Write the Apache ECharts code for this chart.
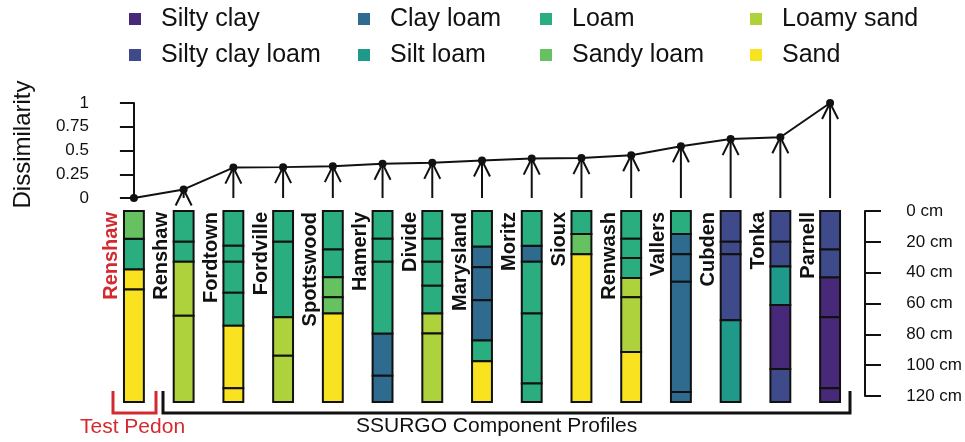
<!DOCTYPE html>
<html>
<head>
<meta charset="utf-8">
<script src="https://cdn.jsdelivr.net/npm/echarts@6/dist/echarts.min.js"></script>
<style>
  html, body { margin: 0; padding: 0; background: #fff; }
  #chart { width: 965px; height: 442px; }
</style>
</head>
<body>
<div id="chart"></div>
<script>
// profile names, test pedon first
const profileNames = ['Renshaw', 'Renshaw', 'Fordtown', 'Fordville', 'Spottswood', 'Hamerly', 'Divide', 'Marysland',
  'Moritz', 'Sioux', 'Renwash', 'Vallers', 'Cubden', 'Tonka', 'Parnell']
const dissimilarity = [0, 0.09, 0.32, 0.325, 0.335, 0.36, 0.37, 0.395, 0.415, 0.42, 0.45, 0.545, 0.62, 0.64, 1]

const textures = ['Silty clay', 'Silty clay loam', 'Clay loam', 'Silt loam', 'Loam', 'Sandy loam', 'Loamy sand', 'Sand']
const textureColors = ['#482878', '#3e4a89', '#2f6b8e', '#1f9a8a', '#2aae7f', '#66c260', '#aed23c', '#f9e21f']

// horizon boundaries (cm)
const horizonDepths = [
  [0, 18, 38, 51, 124],
  [0, 20, 33, 68, 124],
  [0, 22.5, 33, 53, 74.5, 115, 124],
  [0, 20, 69, 94, 124],
  [0, 25, 43, 56, 66.5, 124],
  [0, 18, 33, 79.5, 107, 124],
  [0, 18, 33, 48.5, 66.5, 79.5, 124],
  [0, 23, 36.5, 58, 84, 97.5, 124],
  [0, 22.5, 33, 66.5, 112, 124],
  [0, 15, 28, 124],
  [0, 18, 30.5, 43.5, 56, 91.5, 124],
  [0, 15, 28, 46, 117.5, 124],
  [0, 20, 28, 71, 124],
  [0, 20, 36, 61, 102.5, 124],
  [0, 25, 43, 69, 115, 124]
]
const horizonTextures = [
  ['Sandy loam', 'Loam', 'Sand', 'Sand'],
  ['Loam', 'Loam', 'Loamy sand', 'Loamy sand'],
  ['Loam', 'Loam', 'Loam', 'Loam', 'Sand', 'Sand'],
  ['Loam', 'Loam', 'Loamy sand', 'Loamy sand'],
  ['Loam', 'Loam', 'Sandy loam', 'Sandy loam', 'Sand'],
  ['Loam', 'Loam', 'Loam', 'Clay loam', 'Clay loam'],
  ['Loam', 'Loam', 'Loam', 'Loam', 'Loamy sand', 'Loamy sand'],
  ['Loam', 'Clay loam', 'Clay loam', 'Clay loam', 'Loam', 'Sand'],
  ['Loam', 'Clay loam', 'Loam', 'Loam', 'Loam'],
  ['Loam', 'Sandy loam', 'Sand'],
  ['Loam', 'Loam', 'Loam', 'Loamy sand', 'Loamy sand', 'Sand'],
  ['Loam', 'Clay loam', 'Clay loam', 'Clay loam', 'Clay loam'],
  ['Silty clay loam', 'Silty clay loam', 'Silty clay loam', 'Silt loam'],
  ['Silty clay loam', 'Silty clay loam', 'Silt loam', 'Silty clay', 'Silty clay loam'],
  ['Silty clay loam', 'Silty clay loam', 'Silty clay', 'Silty clay', 'Silty clay']
]

const FONT = 'Liberation Sans'
const chart = echarts.init(document.getElementById('chart'))

// one custom series per texture class so the legend works
const horizonSeries = textures.map((tex, t) => {
  const data = []
  horizonTextures.forEach((list, p) => {
    list.forEach((name, h) => {
      if (name === tex) data.push([p, horizonDepths[p][h], horizonDepths[p][h + 1]])
    })
  })
  return {
    name: tex,
    type: 'custom',
    xAxisIndex: 1,
    yAxisIndex: 1,
    itemStyle: { color: textureColors[t] },
    encode: { x: 0, y: [1, 2] },
    data: data,
    renderItem(params, api) {
      const x = api.value(0)
      const p0 = api.coord([x, api.value(1)])
      const p1 = api.coord([x, api.value(2)])
      const w = api.size([0.4, 0])[0]
      return {
        type: 'rect',
        shape: { x: p0[0] - w / 2, y: p0[1], width: w, height: p1[1] - p0[1] },
        style: { fill: textureColors[t], stroke: '#111', lineWidth: 2 }
      }
    }
  }
})

const legendCols = [
  { left: 129, data: ['Silty clay', 'Silty clay loam'] },
  { left: 358, data: ['Clay loam', 'Silt loam'] },
  { left: 540, data: ['Loam', 'Sandy loam'] },
  { left: 750, data: ['Loamy sand', 'Sand'] }
]

chart.setOption({
  animation: false,
  textStyle: { fontFamily: FONT },
  legend: legendCols.map(c => ({
    left: c.left,
    top: 4,
    padding: 0,
    orient: 'vertical',
    icon: 'rect',
    itemWidth: 12,
    itemHeight: 12,
    itemGap: 6,
    selectedMode: false,
    data: c.data,
    textStyle: { fontSize: 25, lineHeight: 30, color: '#111', fontFamily: FONT, padding: [0, 0, 0, 15] }
  })),
  grid: [
    { left: 119, right: 120, top: 103, height: 95 },
    { left: 119, right: 120, top: 211, bottom: 40 },
    { left: 865, right: 90, top: 211, height: 185 }
  ],
  xAxis: [
    { gridIndex: 0, type: 'value', min: -0.3, max: 14.3, show: false },
    { gridIndex: 1, type: 'value', min: -0.3, max: 14.3, show: false },
    { gridIndex: 2, type: 'value', min: 0, max: 1, show: false }
  ],
  yAxis: [
    {
      gridIndex: 0, type: 'value', min: 0, max: 1, interval: 0.25,
      name: 'Dissimilarity', nameLocation: 'middle', nameGap: 84,
      nameTextStyle: { fontSize: 24, color: '#111', fontFamily: FONT, padding: [0, 0, 0, 12] },
      axisLine: { show: true, lineStyle: { color: '#111', width: 2 } },
      axisTick: { show: true, length: 14, lineStyle: { color: '#111', width: 2 } },
      axisLabel: { margin: 30, fontSize: 17, color: '#111', fontFamily: FONT },
      splitLine: { show: false }
    },
    { gridIndex: 1, type: 'value', min: 0, max: 124, inverse: true, show: false },
    {
      gridIndex: 2, type: 'value', min: 0, max: 120, interval: 20, inverse: true, position: 'right',
      axisLine: { show: true, lineStyle: { color: '#111', width: 2 } },
      axisTick: { show: true, length: 16, lineStyle: { color: '#111', width: 2 } },
      axisLabel: { margin: 32, fontSize: 17, color: '#111', fontFamily: FONT, formatter: '{value} cm' },
      splitLine: { show: false }
    }
  ],
  graphic: [
    { type: 'polyline', shape: { points: [[113, 391], [113, 413], [156, 413], [156, 391]] },
      style: { stroke: '#d42a2f', lineWidth: 3, fill: null } },
    { type: 'polyline', shape: { points: [[163, 391], [163, 413], [850, 413], [850, 391]] },
      style: { stroke: '#111', lineWidth: 3, fill: null } },
    { type: 'text', left: 80, top: 417,
      style: { text: 'Test Pedon', fill: '#d42a2f', fontSize: 21, fontFamily: FONT } },
    { type: 'text', left: 356, top: 416,
      style: { text: 'SSURGO Component Profiles', fill: '#111', fontSize: 21, fontFamily: FONT } }
  ],
  series: [
    // arrows from 0 up to each dissimilarity value
    {
      type: 'custom',
      xAxisIndex: 0,
      yAxisIndex: 0,
      data: dissimilarity.map((v, i) => [i, v]).slice(1),
      renderItem(params, api) {
        const base = api.coord([api.value(0), 0])
        const tip = api.coord([api.value(0), api.value(1)])
        return {
          type: 'group',
          children: [
            { type: 'line', shape: { x1: base[0], y1: base[1], x2: tip[0], y2: tip[1] },
              style: { stroke: '#111', lineWidth: 2 } },
            { type: 'polyline', shape: { points: [[tip[0] - 8, tip[1] + 16], [tip[0], tip[1]], [tip[0] + 8, tip[1] + 16]] },
              style: { stroke: '#111', lineWidth: 2, fill: null } }
          ]
        }
      }
    },
    {
      type: 'line',
      xAxisIndex: 0,
      yAxisIndex: 0,
      data: dissimilarity.map((v, i) => [i, v]),
      symbol: 'circle',
      symbolSize: 8,
      lineStyle: { color: '#111', width: 2 },
      itemStyle: { color: '#111' }
    },
    ...horizonSeries,
    // profile labels
    {
      type: 'custom',
      xAxisIndex: 1,
      yAxisIndex: 1,
      data: profileNames.map((n, i) => [i, 0]),
      renderItem(params, api) {
        const i = api.value(0)
        const top = api.coord([i, 0])
        const w = api.size([0.4, 0])[0]
        return {
          type: 'text',
          x: top[0] - w / 2 - 2,
          y: top[1] + 1,
          rotation: Math.PI / 2,
          style: {
            text: profileNames[i],
            fill: i === 0 ? '#d42a2f' : '#111',
            fontSize: 20,
            fontWeight: 'bold',
            fontFamily: FONT,
            textAlign: 'right',
            textVerticalAlign: 'bottom'
          }
        }
      }
    }
  ]
})
</script>
</body>
</html>
